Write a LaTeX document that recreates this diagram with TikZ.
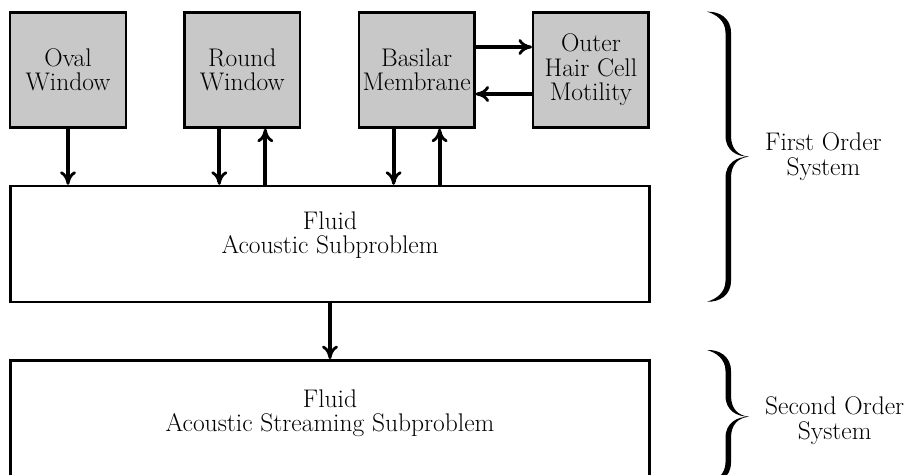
\documentclass[tikz,border=0pt]{standalone}
\usepackage{fontspec}
\usetikzlibrary{arrows.meta}

\definecolor{boxgray}{RGB}{200,200,200}
\newcommand\bodyfont{\fontsize{25.5pt}{24.5pt}\selectfont}

\tikzset{
  box/.style={draw=black, line width=2.4pt, inner sep=0pt, align=center, font=\bodyfont},
  smallbox/.style={box, fill=boxgray, minimum width=115.5pt, minimum height=115pt},
  bigbox/.style={box, minimum width=639pt, minimum height=116pt},
  caption/.style={inner sep=0pt, align=center, font=\bodyfont},
  flow/.style={line width=4.2pt,
    -{Computer Modern Rightarrow[length=13.5pt,width=16pt,line width=2.8pt]}},
}

% Right curly brace as a filled, tapered outline: #1 top, #2 middle, #3 bottom
\newcommand\curlybrace[3]{%
  \fill (707,{#1})
    .. controls (719,{#1-0.5}) and (731,{#1+6}) .. (731,{#1+21})
    -- (731,{#2-21})
    .. controls (731,{#2-8}) and (738,{#2-1}) .. (749,{#2})
    .. controls (738,{#2+1}) and (731,{#2+8}) .. (731,{#2+21})
    -- (731,{#3-21})
    .. controls (731,{#3-6}) and (719,{#3+0.5}) .. (707,{#3})
    .. controls (716,{#3-2.5}) and (725.5,{#3-9}) .. (725.5,{#3-21})
    -- (725.5,{#2+21})
    .. controls (725.5,{#2+6}) and (737,{#2}) .. (749,{#2})
    .. controls (737,{#2}) and (725.5,{#2-6}) .. (725.5,{#2-21})
    -- (725.5,{#1+21})
    .. controls (725.5,{#1+9}) and (716,{#1+2.5}) .. (707,{#1})
    -- cycle;}

\begin{document}
\begin{tikzpicture}[x=1pt,y=-1pt]
\useasboundingbox (0,0) rectangle (909,474);

% mechanical components
\node[smallbox] (ow)  at (68,70)    {Oval\\Window};
\node[smallbox] (rw)  at (242.3,70) {Round\\Window};
\node[smallbox] (bm)  at (416.6,70) {Basilar\\Membrane};
\node[smallbox] (ohc) at (590.9,70) {Outer\\Hair Cell\\Motility};

% fluid subproblems
\node[bigbox] (fas)  at (330,244)   {};
\node[bigbox] (fass) at (330,418.3) {};
\node[caption] (fastext)  at ([yshift=9pt]fas.center)  {Fluid\\Acoustic Subproblem};
\node[caption] (fasstext) at ([yshift=5pt]fass.center) {Fluid\\Acoustic Streaming Subproblem};

% coupling arrows
\coordinate (rwd) at ([xshift=-23pt]rw.south);
\coordinate (rwu) at ([xshift=23pt]rw.south);
\coordinate (bmd) at ([xshift=-23pt]bm.south);
\coordinate (bmu) at ([xshift=23pt]bm.south);
\coordinate (bmr) at ([yshift=23pt]bm.east);
\coordinate (bml) at ([yshift=-24pt]bm.east);

\draw[flow] (ow.south) -- (ow.south |- fas.north);
\draw[flow] (rwd) -- (rwd |- fas.north);
\draw[flow] (rwu |- fas.north) -- (rwu);
\draw[flow] (bmd) -- (bmd |- fas.north);
\draw[flow] (bmu |- fas.north) -- (bmu);
\draw[flow] (bmr) -- (bmr -| ohc.west);
\draw[flow] (bml -| ohc.west) -- (bml);
\draw[flow] (fas.south) -- (fass.north);

% order braces
\curlybrace{11.7}{156.7}{301.7}
\curlybrace{350}{416.7}{483.4}
\node[caption, anchor=west] (first)  at (765,156.7) {First Order\\System};
\node[caption, anchor=west] (second) at (765,420.5) {Second Order\\System};
\end{tikzpicture}
\end{document}
